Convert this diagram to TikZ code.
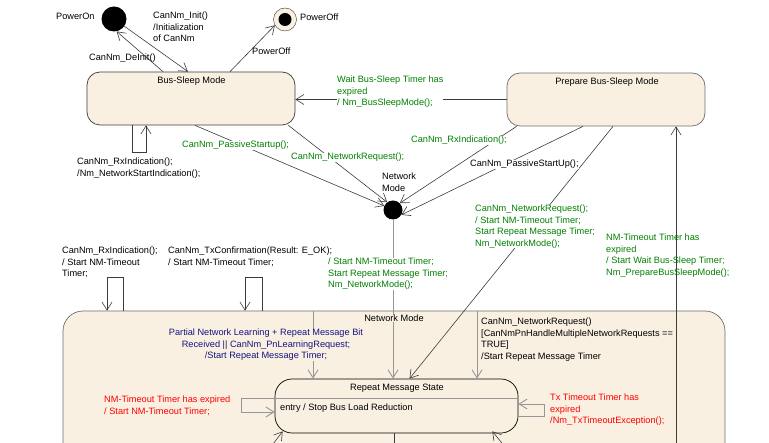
\documentclass[tikz,border=0pt]{standalone}
\usepackage{fontspec}
\setmainfont{Liberation Sans}
\usetikzlibrary{arrows.meta}
\definecolor{cream}{RGB}{250,240,226}
\definecolor{lbgreen}{RGB}{0,128,0}
\definecolor{lbred}{RGB}{255,0,0}
\definecolor{lbnavy}{RGB}{20,20,130}
\definecolor{edgegray}{RGB}{150,150,150}
\definecolor{edgedark}{RGB}{60,60,60}
\definecolor{framegray}{RGB}{110,110,110}

\begin{document}
\begin{tikzpicture}[x=1pt,y=-1pt,
  font=\fontsize{9.2}{11.4}\selectfont,
  state/.style={draw=edgedark,fill=cream,rounded corners=13pt,line width=0.7pt,inner sep=0pt},
  pseudo/.style={circle,fill=black,inner sep=0pt},
  tr/.style={draw=edgedark,line width=0.6pt,-{Straight Barb[length=8pt,width=10pt]}},
  grtr/.style={tr,draw=edgegray,line width=0.9pt},
  lbl/.style={inner sep=0pt,anchor=north west,align=left},
  one/.style={inner sep=0pt,anchor=base west},
  title/.style={inner sep=0pt,anchor=base}]
\useasboundingbox (0,0) rectangle (769,443);
\clip (0,0) rectangle (769,443);
\fill[white] (0,0) rectangle (769,443);
%states
\node[state, draw=framegray, rounded corners=20pt, minimum width=662pt, minimum height=189pt] (nm) at (394,405.5) {};
\node[state, minimum width=208pt, minimum height=53pt] (bsm) at (191,98.5) {};
\node[state, draw=framegray, minimum width=198pt, minimum height=53pt] (pbsm) at (606,99.5) {};
\node[state, draw=black, rounded corners=17pt, minimum width=243pt, minimum height=54pt] (rms) at (396.5,406) {};
\draw[edgegray, line width=0.9pt] ([yshift=8pt]rms.west) -- ([yshift=8pt]rms.east);
%pseudo states
\node[pseudo, minimum size=25pt] (poweron) at (114,19) {};
\node[circle, draw=edgedark, fill=cream, minimum size=23pt, inner sep=0pt] (poweroff) at (285,19.5) {};
\node[pseudo, minimum size=13pt] (poweroffdot) at (poweroff) {};
\node[pseudo, minimum size=19pt] (nmjunc) at (393,210) {};
%free ends
\coordinate (nmexit) at (676,460);
\coordinate (inleft) at (270,448);
\coordinate (inright) at (506,448);
\coordinate (learn) at ([xshift=-81pt]nm.north);
\coordinate (multi) at ([xshift=83pt]nm.north);
%transitions
\draw[tr] (poweron.-35) -- ([xshift=-3pt]bsm.north);
\draw[tr] ([xshift=-28pt]bsm.north) -- (poweron.-78);
\draw[tr] ([xshift=39pt]bsm.north) -- (poweroff.-150);
\draw[tr] (pbsm.west) -- (pbsm.west -| bsm.east);
\draw[tr] ([xshift=-59pt]bsm.south) -- ++(0,27) -| ([xshift=-45pt]bsm.south);
\draw[tr] ([xshift=4pt]bsm.south) -- (nmjunc.155);
\draw[tr] ([xshift=-7pt]bsm.south east) -- (nmjunc.127);
\draw[tr] ([xshift=10pt]pbsm.south west) -- (nmjunc.45);
\draw[tr] ([xshift=-23pt]pbsm.south) -- (nmjunc.-30);
\draw[tr] ([xshift=7pt]pbsm.south) -- ([xshift=13pt]rms.north);
\draw[tr] (nmexit) -- ([xshift=70pt]pbsm.south);
\draw[grtr] (nmjunc) -- (nmjunc |- rms.north);
\draw[tr] ([xshift=-271pt]nm.north) -- ++(0,-33) -| ([xshift=-287pt]nm.north);
\draw[tr] ([xshift=-132pt]nm.north) -- ++(0,-33) -| ([xshift=-149pt]nm.north);
\draw[grtr] (learn) -- (learn |- rms.north);
\draw[grtr] (multi) -- (multi |- rms.north);
\draw[grtr] ([yshift=-10pt]rms.east) -- ++(26,0) |- ([yshift=2pt]rms.east);
\draw[grtr] ([yshift=8pt]rms.west) -- ++(-33,0) |- ([yshift=-6pt]rms.west);
\draw[tr] (inleft) -- ([xshift=8pt,yshift=2pt]rms.south west);
\draw[tr] (inright) -- ([xshift=-26pt,yshift=2pt]rms.south east);
\draw[edgedark, line width=0.6pt] ([xshift=-2.5pt]rms.south) -- ++(0,15);
%state texts
\node[title] (bsmtitle) at (191.5,84) {Bus-Sleep Mode};
\node[title] (pbsmtitle) at (607,85) {Prepare Bus-Sleep Mode};
\node[title, fill=cream] (nmtitle) at (394,322) {Network Mode};
\node[title] (rmstitle) at (397,391) {Repeat Message State};
\node[one] (rmsentry) at (280,411) {entry / Stop Bus Load Reduction};
\node[one] (powerontxt) at (56,20) {PowerOn};
\node[one] (powerofftxt) at (300,21) {PowerOff};
\node[lbl] (nmjunctxt) at (382,173) {Network\\Mode};
%transition texts
\node[lbl] (inittxt) at (153,12) {CanNm\_Init()\\/Initialization\\of CanNm};
\node[one] (deinittxt) at (89,61) {CanNm\_DeInit()};
\node[one] (offtxt) at (252,55) {PowerOff};
\node[lbl, lbgreen, fill=white] (sleeptxt) at (337,76) {Wait Bus-Sleep Timer has\\expired\\/ Nm\_BusSleepMode();};
\node[lbl] (rxbsmtxt) at (77,158) {CanNm\_RxIndication();\\/Nm\_NetworkStartIndication();};
\node[one, lbgreen, fill=white] (passivetxt) at (182,148) {CanNm\_PassiveStartup();};
\node[one, lbgreen, fill=white] (requesttxt) at (291,160) {CanNm\_NetworkRequest();};
\node[one, lbgreen, fill=white] (rxpbsmtxt) at (411,143) {CanNm\_RxIndication();};
\node[one, fill=white] (passivepbsmtxt) at (470,167) {CanNm\_PassiveStartUp();};
\node[lbl, lbgreen, fill=white] (requestpbsmtxt) at (475,205) {CanNm\_NetworkRequest();\\/ Start NM-Timeout Timer;\\Start Repeat Message Timer;\\Nm\_NetworkMode();};
\node[lbl, lbgreen] (preparetxt) at (606,234) {NM-Timeout Timer has\\expired\\/ Start Wait Bus-Sleep Timer;\\Nm\_PrepareBusSleepMode();};
\node[lbl, lbgreen, fill=white] (enternmtxt) at (328,258) {/ Start NM-Timeout Timer;\\Start Repeat Message Timer;\\Nm\_NetworkMode();};
\node[lbl] (rxnmtxt) at (62,247) {CanNm\_RxIndication();\\/ Start NM-Timeout\\Timer;};
\node[lbl] (txnmtxt) at (168,247) {CanNm\_TxConfirmation(Result: E\_OK);\\/ Start NM-Timeout Timer;};
\node[inner sep=0pt, anchor=north, align=center, lbnavy, fill=cream] (learntxt) at (266,329) {Partial Network Learning + Repeat Message Bit\\Received || CanNm\_PnLearningRequest;\\/Start Repeat Message Timer;};
\node[lbl] (multitxt) at (481,318) {CanNm\_NetworkRequest()\\{[}CanNmPnHandleMultipleNetworkRequests ==\\TRUE{]}\\/Start Repeat Message Timer};
\node[lbl, lbred] (nmtimeouttxt) at (104,396) {NM-Timeout Timer has expired\\/ Start NM-Timeout Timer;};
\node[lbl, lbred] (txtimeouttxt) at (550,394) {Tx Timeout Timer has\\expired\\/Nm\_TxTimeoutException();};
\end{tikzpicture}
\end{document}
